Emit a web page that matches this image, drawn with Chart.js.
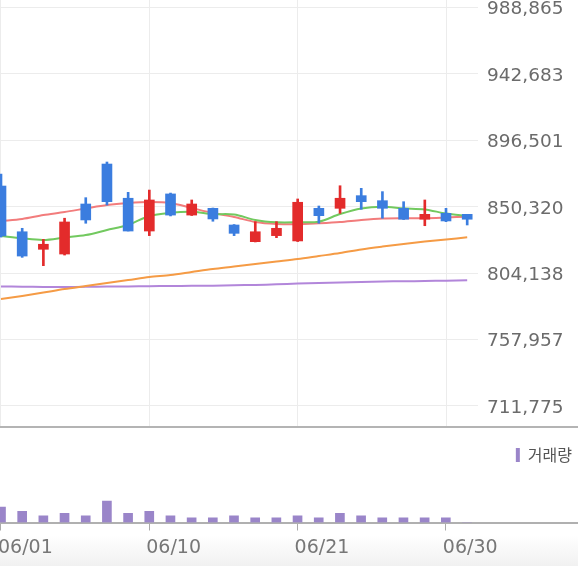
<!DOCTYPE html>
<html>
<head>
<meta charset="utf-8">
<title>일봉 차트</title>
<script src="https://cdn.jsdelivr.net/npm/chart.js"></script>
<style>
  html, body { margin: 0; padding: 0; }
  body {
    width: 578px; height: 566px; overflow: hidden; position: relative;
    background: linear-gradient(to bottom, #fff 0, #fff 535px, #f1f1f1 566px);
  }
  #priceWrap { position: absolute; left: 0; top: 0; width: 578px; height: 426px; }
  #volWrap { position: absolute; left: 0; top: 426px; width: 578px; height: 138px; border-top: 2px solid #b4b4b4; }
</style>
</head>
<body>
  <div id="priceWrap"><canvas id="price"></canvas></div>
  <div id="volWrap"><canvas id="vol"></canvas></div>

  <script>
    // trading days shown
    const dates = ['06/01','06/02','06/03','06/04','06/07','06/08','06/09','06/10','06/11','06/14','06/15',
                   '06/16','06/17','06/18','06/21','06/22','06/23','06/24','06/25','06/28','06/29','06/30','07/01'];

    // daily candles
    const opens  = [864700, 832900, 820700, 817400, 852200, 880000, 856200, 833400, 859200, 844500, 849200, 837600,
                    826000, 830200, 826500, 849200, 849200, 858000, 854500, 849200, 841600, 845700, 845000];
    const highs  = [873000, 835300, 827600, 842300, 856600, 881400, 860300, 861900, 859800, 855000, 849400, 837900,
                    839900, 839900, 855700, 850800, 864900, 863100, 860800, 853800, 855000, 849200, 845000];
    const lows   = [829200, 815100, 809300, 816700, 838800, 851500, 833400, 830200, 843900, 844200, 840200, 830200,
                    825800, 828800, 826100, 838800, 845700, 848500, 842300, 841400, 837100, 839900, 837600];
    const closes = [830000, 816000, 824200, 839700, 841100, 853800, 833400, 855000, 844500, 852200, 841800, 831800,
                    832900, 835300, 853400, 844100, 856200, 853800, 849200, 841600, 845000, 840400, 841600];

    // moving averages
    const ma5   = [829900, 828300, 827200, 828900, 830600, 834100, 837600, 843900, 846100, 846800, 845200, 844900,
                   841100, 839500, 839500, 839900, 845200, 849100, 850300, 849200, 848400, 845600, 843900];
    const ma20  = [840400, 841800, 844500, 846600, 849100, 851500, 852900, 853600, 852900, 849400, 845900, 843200,
                   839700, 838300, 838100, 838800, 839700, 841100, 842100, 842300, 842300, 842800, 843400];
    const ma60  = [786100, 788200, 790600, 793100, 795200, 797300, 799300, 801400, 802800, 804900, 807000, 808700,
                   810500, 812200, 813900, 816000, 818100, 820600, 822600, 824400, 826100, 827500, 829000];
    const ma120 = [794800, 794700, 794500, 794500, 794600, 794800, 794900, 795000, 795200, 795300, 795400, 795700,
                   795900, 796300, 796900, 797300, 797600, 797900, 798300, 798500, 798600, 798900, 799100];

    // volume
    const volumes = [15800, 11600, 7000, 9500, 7000, 22100, 9500, 11600, 7000, 4900, 4900, 7000,
                     4900, 4900, 7000, 4900, 9500, 7000, 4900, 4900, 4900, 4900, 0];

    // axis ticks
    const priceTicks = [711775, 757957, 804138, 850320, 896501, 942683, 988865];
    const priceTickLabels = ['711,775', '757,957', '804,138', '850,320', '896,501', '942,683', '988,865'];
    const dateTickIdx = [0, 7, 14, 21];

    const RED = '#e32b2b', BLUE = '#3b7ddf';
    const candleColors = opens.map((o, i) => closes[i] >= o ? RED : BLUE);
    const pts = arr => arr.map((v, i) => ({ x: i, y: v }));
    const setDateTicks = s => { s.ticks = dateTickIdx.map(v => ({ value: v })); };
    const gridColor = '#ececec';

    new Chart(document.getElementById('price'), {
      type: 'bar',
      data: {
        datasets: [
          { label: 'body', data: opens.map((o, i) => ({ x: i, y: [o, closes[i]] })),
            backgroundColor: candleColors, barThickness: 10, grouped: false, order: 0 },
          { label: 'wick', data: lows.map((l, i) => ({ x: i, y: [l, highs[i]] })),
            backgroundColor: candleColors, barThickness: 2, grouped: false, order: 1 },
          { type: 'line', label: '5', data: pts(ma5), borderColor: '#72c95f', borderWidth: 2, pointRadius: 0, tension: 0.3, order: 2 },
          { type: 'line', label: '20', data: pts(ma20), borderColor: '#f27c7c', borderWidth: 2, pointRadius: 0, tension: 0.3, order: 3 },
          { type: 'line', label: '60', data: pts(ma60), borderColor: '#f59b45', borderWidth: 2, pointRadius: 0, tension: 0.3, order: 4 },
          { type: 'line', label: '120', data: pts(ma120), borderColor: '#b286da', borderWidth: 2, pointRadius: 0, tension: 0.3, order: 5 }
        ]
      },
      options: {
        responsive: true,
        maintainAspectRatio: false,
        animation: false,
        layout: { padding: 0 },
        plugins: { legend: { display: false }, tooltip: { enabled: false } },
        scales: {
          x: {
            type: 'linear', min: -0.047, max: 22.51, offset: false,
            afterBuildTicks: setDateTicks,
            grid: { color: gridColor, drawTicks: false, offset: false },
            border: { display: false },
            ticks: { display: false }
          },
          y: {
            position: 'right', min: 697800, max: 994080,
            afterBuildTicks: s => { s.ticks = priceTicks.map(v => ({ value: v })); },
            afterFit: s => { s.width = 100; s.paddingTop = 0; s.paddingBottom = 0; },
            grid: { color: gridColor, drawTicks: false },
            border: { display: false },
            ticks: {
              padding: 9, labelOffset: 2, color: '#6b6b6b',
              font: { family: 'DejaVu Sans', size: 18.5 },
              callback: v => priceTickLabels[priceTicks.indexOf(v)]
            }
          }
        }
      }
    });

    new Chart(document.getElementById('vol'), {
      type: 'bar',
      data: {
        datasets: [
          { label: '거래량', data: pts(volumes), backgroundColor: '#9a85c9', borderWidth: 0, barThickness: 9, grouped: false }
        ]
      },
      options: {
        responsive: true,
        maintainAspectRatio: false,
        animation: false,
        layout: { padding: { top: 13 } },
        plugins: {
          tooltip: { enabled: false },
          legend: {
            position: 'top', align: 'end',
            labels: { boxWidth: 4, boxHeight: 14, padding: 6, color: '#555',
                      font: { family: 'Noto Sans CJK KR', size: 16 } }
          }
        },
        scales: {
          x: {
            type: 'linear', min: -0.047, max: 27.24, offset: false,
            afterBuildTicks: setDateTicks,
            afterFit: s => { s.height = 43.5; s.paddingLeft = 0; s.paddingRight = 0; },
            grid: { drawOnChartArea: false, drawTicks: true, tickLength: 8, color: '#aaa', offset: false },
            border: { color: '#b0b0b0', width: 2 },
            ticks: {
              align: 'start', labelOffset: -3, padding: 6, maxRotation: 0, color: '#777',
              font: { family: 'DejaVu Sans', size: 19 },
              callback: v => dates[v]
            }
          },
          y: { display: false, min: 0, max: 51000 }
        }
      }
    });
  </script>
</body>
</html>
